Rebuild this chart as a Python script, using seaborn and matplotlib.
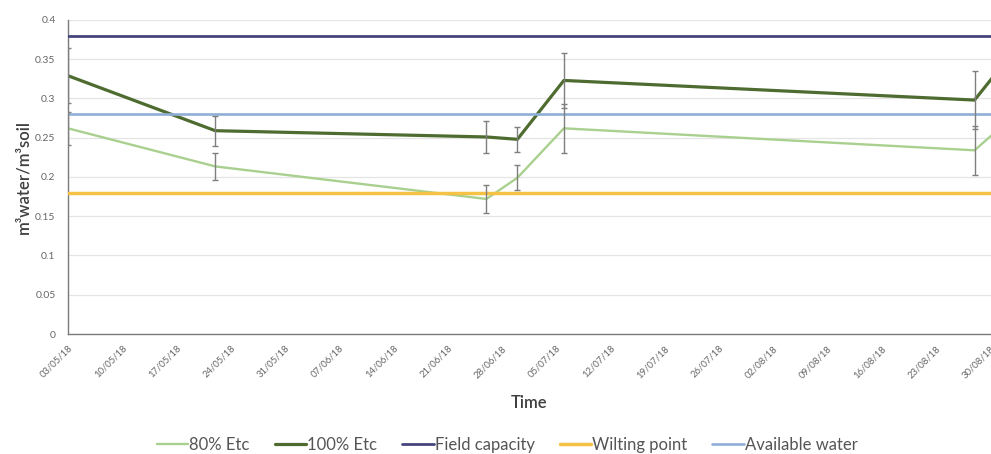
import matplotlib
matplotlib.use("Agg")
import matplotlib.pyplot as plt
import matplotlib.dates as mdates
from matplotlib.ticker import FuncFormatter, MultipleLocator
import numpy as np
import pandas as pd
import seaborn as sns

# Soil water content measurements
dates = ["2018-05-03", "2018-05-22", "2018-06-26", "2018-06-30",
         "2018-07-06", "2018-08-28", "2018-08-31"]
etc80 = [0.262, 0.2135, 0.172, 0.199, 0.262, 0.234, 0.260]
etc100 = [0.329, 0.259, 0.251, 0.248, 0.323, 0.298, 0.335]
err80 = [0.021, 0.0175, 0.018, 0.016, 0.031, 0.031, 0.030]
err100 = [0.035, 0.019, 0.020, 0.016, 0.035, 0.037, 0.030]

# Reference soil water levels
field_capacity = 0.38
wilting_point = 0.18
available_water = 0.28

tick_start = "2018-05-03"
tick_end = "2018-08-30"

sns.set_theme(style="white")
plt.rcParams["font.family"] = ["Lato", "DejaVu Sans"]

x = pd.to_datetime(dates)
df = pd.DataFrame({"date": x, "80% Etc": etc80, "100% Etc": etc100,
                   "Field capacity": field_capacity,
                   "Wilting point": wilting_point,
                   "Available water": available_water})

fig = plt.figure(figsize=(9.91, 4.54), dpi=100)
ax = fig.add_axes([68 / 991, 120 / 454, 1 - 68 / 991, 314 / 454])

styles = {
    "80% Etc": ("#a9d08e", 1.7),
    "100% Etc": ("#4e6b30", 2.3),
    "Field capacity": ("#45457d", 2.0),
    "Wilting point": ("#f5c245", 2.5),
    "Available water": ("#8eaed6", 1.9),
}
for name, (col, lw) in styles.items():
    sns.lineplot(data=df, x="date", y=name, ax=ax, color=col, linewidth=lw,
                 label=name, legend=False, zorder=3)

ax.errorbar(x, etc80, yerr=err80, fmt="none", ecolor="#7f7f7f",
            elinewidth=1.0, capsize=2.5, capthick=1.0, zorder=4)
ax.errorbar(x, etc100, yerr=err100, fmt="none", ecolor="#7f7f7f",
            elinewidth=1.0, capsize=2.5, capthick=1.0, zorder=4)

ax.set_ylim(0, 0.4)
ax.set_xlim(pd.Timestamp(tick_start), pd.Timestamp(tick_end) + pd.Timedelta(hours=3))
ax.yaxis.set_major_locator(MultipleLocator(0.05))
ax.yaxis.set_major_formatter(FuncFormatter(lambda v, p: f"{v:g}"))
ticks = pd.date_range(tick_start, tick_end, freq="7D")
ax.set_xticks(ticks)
ax.xaxis.set_major_formatter(mdates.DateFormatter("%d/%m/%y"))
plt.setp(ax.get_xticklabels(), rotation=45, ha="right", rotation_mode="anchor")

ax.grid(axis="y", color="#e4e4e4", linewidth=0.9)
ax.set_axisbelow(True)
for s in ["top", "right"]:
    ax.spines[s].set_visible(False)
for s in ["left", "bottom"]:
    ax.spines[s].set_color("#7a7a7a")
    ax.spines[s].set_linewidth(1.0)
ax.tick_params(axis="x", length=3, width=0.8, color="#7a7a7a",
               labelsize=6.8, labelcolor="#666666", pad=4, direction="out")
ax.tick_params(axis="y", length=0, labelsize=7.5, labelcolor="#666666", pad=9)

ax.set_xlabel("Time", fontsize=12, color="#404040", fontweight="semibold", labelpad=11)
ax.set_ylabel("m³water/m³soil", fontsize=12, color="#404040",
              fontweight="semibold", labelpad=3)

handles, labels = ax.get_legend_handles_labels()
fig.legend(handles, labels, loc="center", bbox_to_anchor=(507 / 991, 1 - 445 / 454),
           ncol=5, frameon=False, fontsize=12, handlelength=1.9,
           handletextpad=0.05, columnspacing=1.5, labelcolor="#555555")

fig.savefig("out.png", dpi=100)
